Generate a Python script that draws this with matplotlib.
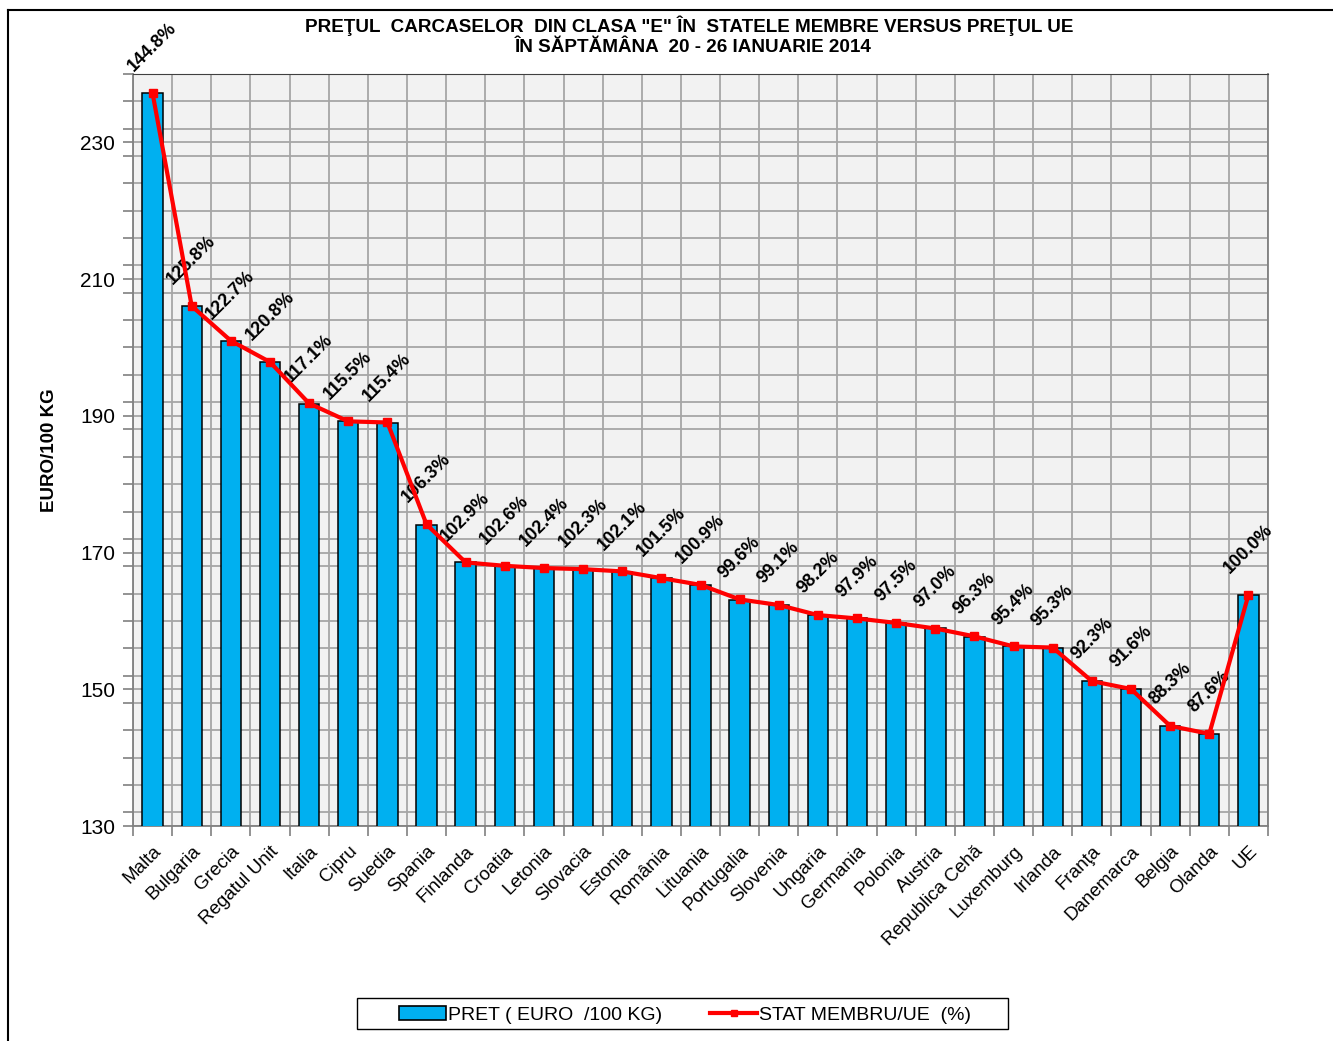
import matplotlib
matplotlib.use("Agg")
import matplotlib.pyplot as plt
from matplotlib.patches import Rectangle, Patch
from matplotlib.lines import Line2D
from matplotlib.ticker import MultipleLocator, FixedLocator

plt.rcParams["font.family"] = ["Liberation Sans", "DejaVu Sans"]

# Data
countries = ["Malta", "Bulgaria", "Grecia", "Regatul Unit", "Italia", "Cipru",
             "Suedia", "Spania", "Finlanda", "Croatia", "Letonia", "Slovacia",
             "Estonia", "România", "Lituania", "Portugalia", "Slovenia",
             "Ungaria", "Germania", "Polonia", "Austria", "Republica Cehă",
             "Luxemburg", "Irlanda", "Franţa", "Danemarca", "Belgia", "Olanda",
             "UE"]
price = [237.2, 206.1, 201.0, 197.9, 191.8, 189.2, 189.0, 174.1, 168.6,
         168.1, 167.7, 167.6, 167.2, 166.3, 165.3, 163.1, 162.3, 160.9,
         160.4, 159.7, 158.9, 157.7, 156.3, 156.1, 151.2, 150.0, 144.6,
         143.5, 163.8]
percent = [144.8, 125.8, 122.7, 120.8, 117.1, 115.5, 115.4, 106.3, 102.9,
           102.6, 102.4, 102.3, 102.1, 101.5, 100.9, 99.6, 99.1, 98.2, 97.9,
           97.5, 97.0, 96.3, 95.4, 95.3, 92.3, 91.6, 88.3, 87.6, 100.0]

ue_price = price[-1]
y_min, y_max = 130, 240
x = list(range(len(countries)))

W, H = 1333, 1041
fig = plt.figure(figsize=(W / 100, H / 100), dpi=100)
# outer frame: only top and left edges are visible in the original
fig.add_artist(Line2D([8 / W, 1.0], [1 - 10 / H, 1 - 10 / H],
                      transform=fig.transFigure, color="black", linewidth=1.5))
fig.add_artist(Line2D([8 / W, 8 / W], [0.0, 1 - 10 / H],
                      transform=fig.transFigure, color="black", linewidth=1.5))

ax = fig.add_axes([133 / W, 1 - 826 / H, (1268 - 133) / W, (826 - 74) / H])
ax.set_facecolor("#f2f2f2")

ax.bar(x, price, width=0.52, color="#00b0f0", edgecolor="black",
       linewidth=1.1, zorder=3)

ax.set_xlim(-0.5, len(countries) - 0.5)
ax.set_ylim(y_min, y_max)
ax.yaxis.set_major_locator(FixedLocator(range(130, 231, 20)))
ax.yaxis.set_minor_locator(MultipleLocator(4))
ax.xaxis.set_minor_locator(FixedLocator([i + 0.5 for i in range(-1, len(countries))]))
ax.set_xticks(x)
ax.set_xticklabels(countries, rotation=45, ha="right", rotation_mode="anchor",
                   fontsize=13.5)
ax.tick_params(axis="x", which="major", length=0, pad=12)
ax.tick_params(axis="x", which="minor", length=7, color="#808080", width=1.2)
ax.tick_params(axis="y", which="both", length=7, color="#808080", width=1.2,
               labelsize=15, pad=6)
ax.grid(True, which="minor", color="#a6a6a6", linewidth=1.3, zorder=0)
ax.grid(True, which="major", axis="y", color="#a6a6a6", linewidth=1.3, zorder=0)
ax.set_axisbelow(True)
for side in ["left", "bottom", "right"]:
    ax.spines[side].set_color("#808080")
    ax.spines[side].set_linewidth(1.3)
ax.spines["top"].set_color("#404040")
ax.set_ylabel("EURO/100 KG", fontsize=13.5, fontweight="bold", labelpad=16)

# percentage line on a hidden secondary axis scaled to the EU price
ax2 = ax.twinx()
ax2.set_ylim(y_min / ue_price * 100, y_max / ue_price * 100)
ax2.plot(x, percent, color="#ff0000", linewidth=3, marker="s", markersize=6,
         zorder=5)
ax2.set_yticks([])
for s in ax2.spines.values():
    s.set_visible(False)
for xi, p in zip(x, percent):
    ax2.annotate(f"{p:.1f}%", (xi, p), xytext=(0, 13), textcoords="offset points",
                 ha="center", va="bottom", rotation=45, fontsize=13,
                 fontweight="bold")

title_font = ["Liberation Sans Narrow", "Liberation Sans", "DejaVu Sans"]
fig.text(689 / W, 1 - 26 / H,
         "PREŢUL  CARCASELOR  DIN CLASA \"E\" ÎN  STATELE MEMBRE VERSUS PREŢUL UE",
         ha="center", va="center", fontsize=13.6, fontweight="bold",
         family=title_font)
fig.text(693 / W, 1 - 47 / H, "ÎN SĂPTĂMÂNA  20 - 26 IANUARIE 2014",
         ha="center", va="center", fontsize=13.6, fontweight="bold",
         family=title_font)

# legend with a hand-drawn frame matching the original box
fig.patches.append(Rectangle((357 / W, 1 - 1029 / H), (1008 - 357) / W,
                             31 / H, transform=fig.transFigure, fill=False,
                             edgecolor="black", linewidth=1.0))
handles = [Patch(facecolor="#00b0f0", edgecolor="black", linewidth=1.2),
           Line2D([0], [0], color="#ff0000", linewidth=3, marker="s",
                  markersize=5)]
fig.legend(handles, ["PRET ( EURO  /100 KG)", "STAT MEMBRU/UE  (%)"],
           loc="center", bbox_to_anchor=(685 / W, 1 - 1015 / H),
           ncol=2, fontsize=14, frameon=False,
           handlelength=2.4, handletextpad=0.1, columnspacing=2.5,
           borderpad=0.2, borderaxespad=0)

fig.savefig("out.png", dpi=100)
